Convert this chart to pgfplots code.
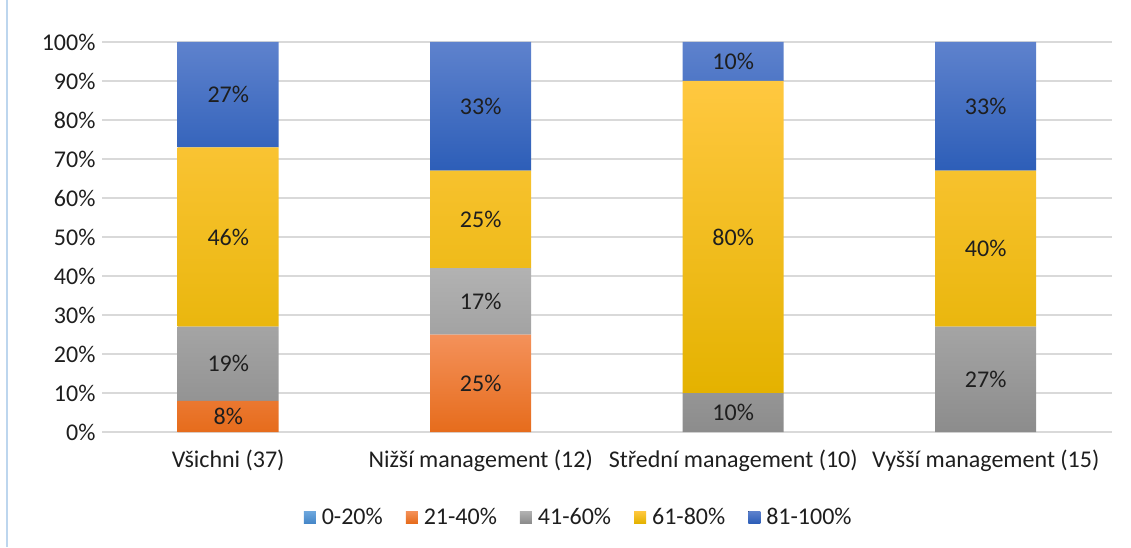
\documentclass[border=0pt]{standalone}
\usepackage{pgfplots}
\pgfplotsset{compat=1.18}
\usepackage{fontspec}
\setmainfont{Carlito}
\definecolor{gridc}{RGB}{217,217,217}
\definecolor{txt}{RGB}{30,30,30}
\definecolor{c1t}{RGB}{110,168,222}\definecolor{c1b}{RGB}{70,135,200}
\definecolor{c2t}{RGB}{244,145,90}\definecolor{c2b}{RGB}{230,108,28}
\definecolor{c3t}{RGB}{178,178,178}\definecolor{c3b}{RGB}{140,140,140}
\definecolor{c4t}{RGB}{255,200,64}\definecolor{c4b}{RGB}{228,178,0}
\definecolor{c5t}{RGB}{94,130,205}\definecolor{c5b}{RGB}{45,94,184}
\definecolor{borderc}{RGB}{189,214,238}
\begin{document}
\begin{tikzpicture}
\path[use as bounding box] (0,0) rectangle (1131pt,547pt);
\draw[borderc, line width=1.5pt] (7pt,0) -- (7pt,547pt);
\begin{axis}[
  at={(102pt,115pt)}, anchor=south west,
  scale only axis, width=1010pt, height=390pt,
  ybar stacked, bar width=101pt,
  xmin=-0.5, xmax=3.5, ymin=0, ymax=100,
  xtick={0,1,2,3},
  xticklabels={Všichni (37),Nižší management (12),Střední management (10),Vyšší management (15)},
  ytick={0,10,...,100},
  yticklabel={\pgfmathprintnumber{\tick}\%},
  /pgf/number format/assume math mode=true,
  font=\fontsize{24}{28}\selectfont,
  ticklabel style={font=\fontsize{24}{28}\selectfont, text=txt},
  ymajorgrids, major grid style={gridc, line width=1.5pt},
  axis line style={draw=none}, tick style={draw=none},
  yticklabel style={xshift=-3pt},
  xticklabel style={yshift=-14pt},
  legend columns=5,
  legend style={draw=none, at={(0.472,-0.218)}, anchor=center, font=\fontsize{24}{28}\selectfont, text=txt,
    /tikz/every even column/.append style={column sep=21pt}},
  legend image code/.code={\fill[#1] (0pt,-6pt) rectangle (12pt,6pt); \path (16pt,0pt);},
  nodes near coords={\pgfmathfloatifflags{\pgfplotspointmeta}{0}{}{\pgfmathprintnumber{\pgfplotspointmeta}\%}},
  every node near coord/.append style={font=\fontsize{24}{28}\selectfont, text=txt},
]
\addplot[draw=none, top color=c1t, bottom color=c1b] coordinates {(0,0) (1,0) (2,0) (3,0)};
\addplot[draw=none, top color=c2t, bottom color=c2b] coordinates {(0,8) (1,25) (2,0) (3,0)};
\addplot[draw=none, top color=c3t, bottom color=c3b] coordinates {(0,19) (1,17) (2,10) (3,27)};
\addplot[draw=none, top color=c4t, bottom color=c4b] coordinates {(0,46) (1,25) (2,80) (3,40)};
\addplot[draw=none, top color=c5t, bottom color=c5b] coordinates {(0,27) (1,33) (2,10) (3,33)};
\legend{0-20\%,21-40\%,41-60\%,61-80\%,81-100\%}
\end{axis}
\end{tikzpicture}
\end{document}
